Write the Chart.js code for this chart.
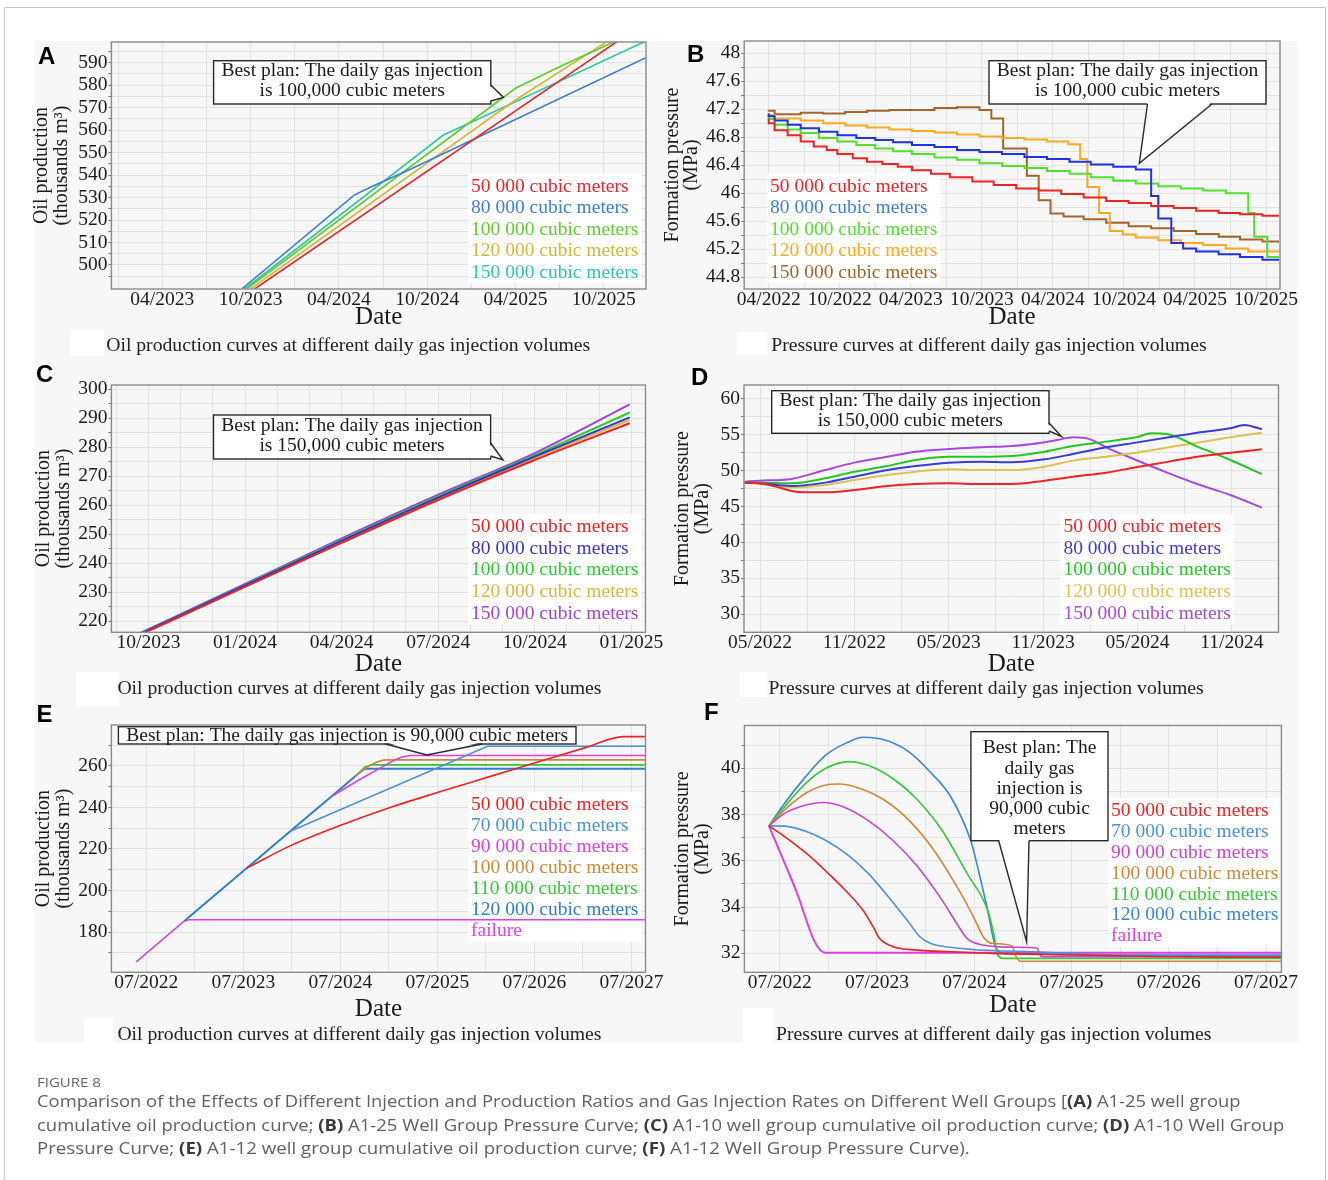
<!DOCTYPE html>
<html><head><meta charset="utf-8">
<script src="https://cdn.jsdelivr.net/npm/chart.js@4.4.1/dist/chart.umd.min.js"></script>
<style>
html,body{margin:0;padding:0;background:#fff;}
body{width:1328px;height:1180px;position:relative;overflow:hidden;}
#frame{position:absolute;left:4px;top:7px;width:1322px;height:1200px;border:1px solid #c6c6c6;box-sizing:border-box;}
#panelbg{position:absolute;left:35px;top:41px;width:1263px;height:1002px;background:#f7f7f7;}
.wbox{position:absolute;background:#fff;}
canvas.chart{position:absolute;left:0;top:0;}
.letter{position:absolute;font-family:'Liberation Sans',Arial,sans-serif;font-weight:bold;font-size:24px;line-height:24px;color:#000;}
.sub{position:absolute;font-family:'Liberation Serif','Times New Roman',serif;font-size:19.7px;line-height:20px;color:#222;white-space:nowrap;}
.cap{position:absolute;left:37px;font-family:'Open Sans',sans-serif;font-size:16.5px;line-height:20px;color:#606060;white-space:nowrap;transform-origin:0 0;}
.cap b{color:#3a3a3a;}
#fig{position:absolute;left:37px;top:1075.6px;font-family:'Open Sans',sans-serif;font-size:12.5px;line-height:14px;color:#666;white-space:nowrap;transform-origin:0 0;}
</style></head>
<body>
<div id="frame"></div>
<div id="panelbg"></div>
<div class="wbox" style="left:70px;top:330px;width:34px;height:26px"></div>
<div class="wbox" style="left:737px;top:332px;width:30px;height:23px"></div>
<div class="wbox" style="left:76px;top:672px;width:43px;height:34px"></div>
<div class="wbox" style="left:739px;top:672px;width:28px;height:25px"></div>
<div class="wbox" style="left:84px;top:1018px;width:30px;height:25px"></div>
<div class="wbox" style="left:743px;top:1008px;width:31px;height:35px"></div>
<div id="stage"></div>
<div class="letter" style="left:38px;top:43.7px">A</div>
<div class="letter" style="left:687px;top:42px">B</div>
<div class="letter" style="left:36px;top:362px">C</div>
<div class="letter" style="left:691px;top:365.3px">D</div>
<div class="letter" style="left:36.5px;top:702px">E</div>
<div class="letter" style="left:704px;top:700.3px">F</div>
<div class="sub" style="left:106.2px;top:333.7px">Oil production curves at different daily gas injection volumes</div>
<div class="sub" style="left:771.2px;top:333.7px">Pressure curves at different daily gas injection volumes</div>
<div class="sub" style="left:117.4px;top:676.9px">Oil production curves at different daily gas injection volumes</div>
<div class="sub" style="left:768.4px;top:676.9px">Pressure curves at different daily gas injection volumes</div>
<div class="sub" style="left:117.4px;top:1022.6px">Oil production curves at different daily gas injection volumes</div>
<div class="sub" style="left:776px;top:1022.6px">Pressure curves at different daily gas injection volumes</div>
<div id="fig">FIGURE 8</div>
<div class="cap" id="cap1" data-w="1203" style="top:1091.2px">Comparison of the Effects of Different Injection and Production Ratios and Gas Injection Rates on Different Well Groups [<b>(A)</b> A1-25 well group</div>
<div class="cap" id="cap2" data-w="1247" style="top:1114.5px">cumulative oil production curve; <b>(B)</b> A1-25 Well Group Pressure Curve; <b>(C)</b> A1-10 well group cumulative oil production curve; <b>(D)</b> A1-10 Well Group</div>
<div class="cap" id="cap3" data-w="933" style="top:1137.8px">Pressure Curve; <b>(E)</b> A1-12 well group cumulative oil production curve; <b>(F)</b> A1-12 Well Group Pressure Curve).</div>
<script>
// ===================== DATA =====================
// x values are month indices counted from 01/2022 (0 = 01/2022)
const LEG5A = ['50 000 cubic meters','80 000 cubic meters','100 000 cubic meters','120 000 cubic meters','150 000 cubic meters'];
const LEG7 = ['50 000 cubic meters','70 000 cubic meters','90 000 cubic meters','100 000 cubic meters','110 000 cubic meters','120 000 cubic meters','failure'];

// Panel A - cumulative oil production (thousand m3)
const A_50k  = [[21.27,489.3],[45.95,599.6]];
const A_80k  = [[20.4,489.3],[28.04,531.1],[29.2,534.8],[31.5,541.5],[47.86,592.2]];
const A_100k = [[20.73,489.3],[39.0,578.6],[42.0,588.2],[45.8,599.6]];
const A_120k = [[21.0,489.3],[39.0,573.4],[45.27,599.6]];
const A_150k = [[20.6,489.3],[34.1,557.8],[36.0,563.5],[47.86,599.6]];
const A_xMajor = [15,21,27,33,39,45], A_xMinor = [12,18,24,30,36,42];
const A_yMajor = [500,510,520,530,540,550,560,570,580,590], A_yMinor = [495,505,515,525,535,545,555,565,575,585,595];

// Panel B - formation pressure (MPa), stepped
const B_50k = [[3,47.07],[3.5,47.0],[4.6,46.90],[5.7,46.83],[6.8,46.74],[7.9,46.67],[8.8,46.62],[10.1,46.56],[11.3,46.50],[12.6,46.45],[13.9,46.42],[15.1,46.38],[16.7,46.33],[18.3,46.28],[20.2,46.23],[22.0,46.17],[23.9,46.12],[25.8,46.07],[27.7,46.04],[29.6,45.99],[31.5,45.94],[33.4,45.89],[35.3,45.86],[37.2,45.82],[39.1,45.79],[41.0,45.75],[42.8,45.72],[44.7,45.70],[46.1,45.68]];
const B_80k = [[3,47.14],[3.5,47.10],[4.6,47.04],[5.7,46.98],[7.25,46.93],[8.8,46.88],[10.4,46.83],[12.0,46.79],[13.5,46.76],[15.1,46.73],[17.0,46.69],[18.9,46.66],[20.8,46.62],[22.7,46.59],[24.6,46.56],[26.5,46.52],[28.4,46.49],[30.2,46.45],[32.1,46.41],[34.0,46.38],[35.3,46.34],[35.9,45.96],[37.0,45.64],[38.0,45.29],[39.1,45.21],[41.0,45.17],[42.8,45.13],[44.7,45.09],[46.1,45.05]];
const B_100k = [[3,47.12],[3.5,47.06],[4.6,46.98],[5.7,46.91],[7.25,46.86],[8.8,46.79],[10.4,46.74],[12.0,46.69],[13.5,46.64],[15.1,46.60],[17.0,46.56],[18.9,46.51],[20.8,46.48],[22.7,46.43],[24.6,46.39],[26.5,46.36],[28.4,46.32],[30.2,46.28],[32.1,46.23],[34.0,46.18],[35.9,46.14],[37.8,46.10],[39.7,46.07],[41.6,46.04],[43.5,46.00],[44.0,45.72],[45.1,45.38],[46.1,45.09]];
const B_120k = [[3,47.14],[3.5,47.12],[5.7,47.07],[7.6,47.04],[9.45,47.00],[11.3,46.97],[13.2,46.94],[15.1,46.91],[17.0,46.89],[18.9,46.87],[20.8,46.84],[22.7,46.81],[24.6,46.79],[26.5,46.77],[28.3,46.74],[29.3,46.70],[29.9,46.49],[30.9,46.09],[31.8,45.72],[32.9,45.46],[34.0,45.41],[35.9,45.37],[37.8,45.33],[39.7,45.29],[41.6,45.26],[43.5,45.21],[46.1,45.17]];
const B_150k = [[3,47.17],[3.5,47.18],[3.8,47.13],[5.7,47.13],[7.6,47.15],[9.45,47.14],[11.3,47.16],[13.2,47.18],[15.1,47.19],[17.0,47.19],[18.9,47.22],[20.8,47.23],[21.8,47.19],[22.8,47.07],[24.8,46.64],[25.8,46.25],[26.8,45.90],[27.9,45.71],[29.6,45.67],[31.5,45.63],[33.4,45.58],[35.3,45.53],[37.2,45.50],[39.1,45.46],[41.0,45.42],[42.8,45.38],[44.7,45.34],[46.1,45.31]];
const B_xMajor = [3,9,15,21,27,33,39,45], B_xMinor = [6,12,18,24,30,36,42];
const B_yMajor = [44.8,45.2,45.6,46,46.4,46.8,47.2,47.6,48], B_yMinor = [45,45.4,45.8,46.2,46.6,47,47.4,47.8];

// Panel C - cumulative oil production (thousand m3)
const C_50k  = [[20.5,214.0],[24,231.8],[27,247.0],[30,261.8],[33,275.6],[35.95,288.3]];
const C_80k  = [[20.5,214.3],[24,232.3],[27,247.7],[30,262.6],[33,276.8],[35.95,290.3]];
const C_100k = [[20.5,214.4],[24,232.5],[27,248.0],[30,263.0],[33,277.3],[35.95,292.0]];
const C_120k = [[20.5,214.2],[24,232.1],[27,247.4],[30,262.3],[33,276.3],[35.95,289.4]];
const C_150k = [[20.5,214.6],[24,232.8],[27,248.5],[30,263.6],[33,278.0],[35.95,294.8]];
const C_xMajor = [21,24,27,30,33,36], C_xMinor = [20,22,23,25,26,28,29,31,32,34,35];
const C_yMajor = [220,230,240,250,260,270,280,290,300], C_yMinor = [225,235,245,255,265,275,285,295];

// Panel D - formation pressure (MPa)
const D_50k  = [[3.03,48.33],[4,48.23],[5,47.77],[6,47.16],[6.84,46.98],[8.15,46.98],[10,47.30],[12.1,47.86],[13.9,48.14],[16,48.23],[18.1,48.14],[20,48.14],[22.1,48.60],[23.9,49.16],[26,49.72],[27.9,50.47],[30,51.26],[31.8,51.95],[33.9,52.51],[35.9,52.98]];
const D_80k  = [[3.03,48.33],[4,48.23],[6,47.86],[8.15,48.33],[10,49.16],[12.1,50.09],[13.9,50.65],[16,51.12],[18.1,51.26],[20,51.16],[22.1,51.58],[23.9,52.33],[26,53.26],[27.9,53.91],[30,54.65],[31.8,55.30],[33.9,55.91],[34.8,56.37],[35.9,55.77]];
const D_100k = [[3.03,48.33],[4,48.33],[6,48.23],[8.15,48.93],[10,49.86],[12.1,50.65],[13.9,51.49],[16,51.95],[18.1,51.95],[20,52.05],[22.1,52.65],[23.9,53.44],[26,54.05],[27.9,54.65],[28.9,55.21],[29.85,55.12],[31.8,53.35],[33.9,51.49],[35.9,49.53]];
const D_120k = [[3.03,48.33],[4,48.14],[6,47.67],[8.15,48.0],[10,48.70],[12.1,49.40],[13.9,49.86],[16,50.19],[18.1,50.09],[20,50.09],[22.1,50.56],[23.9,51.40],[26,51.95],[27.9,52.51],[30,53.26],[31.8,53.91],[33.9,54.65],[35.9,55.30]];
const D_150k = [[3.03,48.47],[4,48.6],[6,48.84],[8.15,50.09],[10,51.12],[12.1,51.95],[13.9,52.65],[16,53.02],[18.1,53.26],[20,53.44],[21.3,53.72],[22.9,54.28],[23.9,54.65],[25,54.37],[26,53.26],[27.9,51.49],[30,49.63],[31.8,48.14],[33.9,46.60],[35.9,44.84]];
const D_xMajor = [4,10,16,22,28,34], D_xMinor = [7,13,19,25,31];
const D_yMajor = [30,35,40,45,50,55,60], D_yMinor = [32.5,37.5,42.5,47.5,52.5,57.5];

// Panel E - cumulative oil production (thousand m3)
const E_50k  = [[18.4,210.7],[23.85,221.6],[30.3,231.8],[36.25,240.1],[42.2,247.4],[48.25,254.6],[54.2,261.6],[60.3,268.8],[65.0,274.1],[67.7,274.1]];
const E_70k  = [[23.8,228.5],[48.2,269.5],[67.7,269.5]];
const E_90k  = [[28.9,245.3],[33.8,256.5],[38.8,265.0],[67.7,265.0]];
const E_100k = [[31.8,254.9],[33.8,260.5],[35.75,262.9],[67.7,262.9]];
const E_110k = [[32.5,257.2],[33.0,259.4],[33.8,260.5],[67.7,260.5]];
const E_120k = [[10.7,185.3],[18.4,210.7],[23.8,228.5],[29.8,248.3],[32.8,258.2],[33.2,258.6],[67.7,258.6]];
const E_fail = [[4.75,165.6],[10.7,185.3],[11.3,185.9],[67.7,185.9]];
const E_xMajor = [6,18,30,42,54,66], E_xMinor = [12,24,36,48,60];
const E_yMajor = [180,200,220,240,260], E_yMinor = [170,190,210,230,250,270];

// Panel F - formation pressure (MPa)
const F_50k  = [[4.67,37.51],[6.6,37.05],[9.2,36.35],[11.7,35.55],[14.3,34.65],[16.3,33.85],[17.6,33.1],[18.3,32.65],[19.9,32.3],[23.0,32.14],[27.1,32.07],[32.2,32.0],[42.4,31.93],[52.6,31.86],[67.9,31.83]];
const F_70k  = [[4.67,37.51],[6.6,37.5],[9.2,37.28],[11.7,36.88],[14.3,36.28],[16.8,35.5],[19.4,34.45],[21.9,33.35],[23.2,32.75],[24.5,32.45],[28.1,32.22],[32.2,32.12],[37.3,32.07],[47.5,31.93],[67.9,31.93]];
const F_90k  = [[4.67,37.51],[6.6,38.05],[9.2,38.41],[11.2,38.52],[13.8,38.34],[16.8,37.77],[19.9,36.9],[23.0,35.75],[26.0,34.31],[28.1,33.15],[29.1,32.65],[31.1,32.36],[35.2,32.26],[37.8,32.22],[38.0,32.0],[38.5,31.85],[67.9,31.85]];
const F_100k = [[4.67,37.51],[6.6,38.2],[9.2,38.92],[11.7,39.28],[13.3,39.32],[15.8,39.14],[18.9,38.63],[21.9,37.77],[25.0,36.47],[28.1,34.74],[30.1,33.44],[31.1,32.72],[32.2,32.43],[34.7,32.32],[35.0,31.97],[35.7,31.66],[67.9,31.66]];
const F_110k = [[4.67,37.51],[6.6,38.34],[9.2,39.35],[11.7,40.0],[14.5,40.29],[16.8,40.14],[19.9,39.57],[23.0,38.63],[26.0,37.33],[29.1,35.46],[31.65,33.87],[32.4,32.86],[32.9,31.93],[33.7,31.78],[67.9,31.78]];
const F_120k = [[4.67,37.51],[6.6,38.49],[9.2,39.64],[11.7,40.58],[14.3,41.11],[16.3,41.34],[18.9,41.23],[21.9,40.72],[24.5,39.86],[27.1,38.77],[29.6,36.83],[30.6,35.46],[31.65,33.87],[32.7,32.22],[33.7,32.0],[67.9,31.9]];
const F_fail = [[4.67,37.51],[6.1,36.32],[8.15,34.59],[10.2,32.58],[11.0,32.14],[11.7,32.03],[67.9,32.03]];
const F_xMajor = [6,18,30,42,54,66], F_xMinor = [12,24,36,48,60];
const F_yMajor = [32,34,36,38,40], F_yMinor = [33,35,37,39,41];

// ===================== RENDERING =====================
const FONT = "'Liberation Serif','Times New Roman',serif";
const W = 1328, H = 1180, GRID = '#e2e2e2';
function monthLabel(v){ const m = Math.round(v); return String((m % 12) + 1).padStart(2,'0') + '/' + (2022 + Math.floor(m / 12)); }
const isIn = (arr, v) => arr.some(a => Math.abs(a - v) < 1e-6);

function drawCallout(ctx, c){
  const [x1,y1,x2,y2] = c.box;
  ctx.save();
  ctx.fillStyle = '#fff'; ctx.fillRect(x1,y1,x2-x1,y2-y1);
  ctx.strokeStyle = '#2a2a2a'; ctx.lineWidth = 1.4; ctx.strokeRect(x1,y1,x2-x1,y2-y1);
  const [b1,tip,b2] = c.tail;
  const off = c.dir === 'right' ? [-2,0] : [0,-2];
  ctx.beginPath();
  ctx.moveTo(b1[0]+off[0], b1[1]+off[1]); ctx.lineTo(tip[0],tip[1]); ctx.lineTo(b2[0]+off[0], b2[1]+off[1]); ctx.closePath();
  ctx.fillStyle = '#fff'; ctx.fill();
  ctx.beginPath(); ctx.moveTo(b1[0],b1[1]); ctx.lineTo(tip[0],tip[1]); ctx.lineTo(b2[0],b2[1]); ctx.stroke();
  ctx.fillStyle = '#1a1a1a'; ctx.font = '19.5px ' + FONT; ctx.textAlign = 'center'; ctx.textBaseline = 'alphabetic';
  c.lines.forEach((t,i) => ctx.fillText(t, c.cx, c.ys[i] + 6.45));
  ctx.restore();
}

function makeDecor(cfg){
  return {
    id: 'decor' + cfg.id,
    beforeDatasetsDraw(chart){
      const ctx = chart.ctx, L = cfg.legend, ds = chart.data.datasets;
      ctx.save(); ctx.font = '19.5px ' + FONT;
      let w = 0; ds.forEach(d => { w = Math.max(w, ctx.measureText(d.label).width); });
      ctx.fillStyle = '#fff';
      ctx.fillRect(L.x - 3, L.y0 - 12, w + 6, L.dy * (ds.length - 1) + 24);
      ctx.restore();
    },
    afterDatasetsDraw(chart){
      const ctx = chart.ctx, L = cfg.legend, a = chart.chartArea;
      ctx.save();
      ctx.font = '19.5px ' + FONT; ctx.textAlign = 'left'; ctx.textBaseline = 'alphabetic';
      chart.data.datasets.forEach((d,i) => { ctx.fillStyle = d.legendColor; ctx.fillText(d.label, L.x, L.y0 + i * L.dy + 6.45); });
      ctx.restore();
      drawCallout(ctx, cfg.callout);
      ctx.save(); ctx.strokeStyle = '#8a8a8a'; ctx.lineWidth = 1.4;
      ctx.strokeRect(a.left, a.top, a.right - a.left, a.bottom - a.top);
      ctx.restore();
    }
  };
}

function makePanel(cfg){
  const cv = document.createElement('canvas');
  cv.width = W; cv.height = H; cv.className = 'chart';
  document.getElementById('stage').appendChild(cv);
  const P = cfg.plot, yW = 80, xH = 60;
  const tickFont = {family: FONT, size: 19.5, lineHeight: 1.1};
  const xTicks = cfg.x.major.concat(cfg.x.minor).sort((a,b) => a - b);
  const yTicks = cfg.y.major.concat(cfg.y.minor).sort((a,b) => a - b);
  const lh = cfg.yTitleLH;
  new Chart(cv, {
    type: 'line',
    data: { datasets: cfg.series.map((s,i) => ({
      label: cfg.labels[i],
      data: s.data.map(([x,y]) => ({x, y})),
      borderColor: s.color, backgroundColor: s.color,
      legendColor: s.legend || s.color,
      borderWidth: s.width || cfg.lineWidth,
      pointRadius: 0, fill: false,
      stepped: cfg.stepped || false,
      tension: 0,
      cubicInterpolationMode: (s.smooth !== undefined ? s.smooth : cfg.smooth) ? 'monotone' : 'default'
    }))},
    options: {
      responsive: false, animation: false, events: [],
      layout: { padding: { left: P.l - yW, top: P.t, right: W - P.r, bottom: H - P.b - xH } },
      plugins: { legend: {display: false}, tooltip: {enabled: false} },
      scales: {
        x: {
          type: 'linear', position: 'bottom', min: cfg.x.min, max: cfg.x.max,
          afterFit: s => { s.height = xH; },
          afterBuildTicks: s => { s.ticks = xTicks.map(v => ({value: v})); },
          ticks: { autoSkip: false, maxRotation: 0, minRotation: 0, padding: 0, color: '#1a1a1a', font: tickFont,
                   callback: v => isIn(cfg.x.major, v) ? monthLabel(v) : '' },
          grid: { color: GRID, lineWidth: 1, drawTicks: false },
          border: { display: false },
          title: { display: true, text: 'Date', color: '#1a1a1a', font: {family: FONT, size: 25, lineHeight: 1.2},
                   padding: {top: 0, bottom: P.b + xH - cfg.dateY - 15} }
        },
        y: {
          type: 'linear', position: 'left', min: cfg.y.min, max: cfg.y.max,
          afterFit: s => { s.width = yW; },
          afterBuildTicks: s => { s.ticks = yTicks.map(v => ({value: v})); },
          ticks: { autoSkip: false, padding: 1, color: '#1a1a1a', font: tickFont,
                   callback: v => isIn(cfg.y.major, v) ? String(+v.toFixed(1)) : '' },
          grid: { color: GRID, lineWidth: 1, drawTicks: true, tickLength: 3, tickColor: '#777' },
          border: { display: false },
          title: { display: true, text: cfg.yTitle, color: '#1a1a1a', font: {family: FONT, size: 20, lineHeight: lh / 20},
                   padding: {top: cfg.yTitleX - (P.l - yW) - lh / 2, bottom: 0} }
        }
      }
    },
    plugins: [makeDecor(cfg)]
  });
}

const OIL = ['Oil production', '(thousands m\u00B3)'];
const PRES = ['Formation pressure', '(MPa)'];

makePanel({
  id: 'A', plot: {l: 111.4, t: 42, r: 646, b: 289},
  x: {min: 11.54, max: 47.87, major: A_xMajor, minor: A_xMinor},
  y: {min: 489.3, max: 599.2, major: A_yMajor, minor: A_yMinor},
  yTitle: OIL, yTitleX: 42, yTitleLH: 20, dateY: 317.8, lineWidth: 1.6,
  labels: LEG5A,
  series: [
    {data: A_50k, color: '#e8262b'}, {data: A_80k, color: '#3b7dd8'}, {data: A_100k, color: '#5fcc2f'},
    {data: A_120k, color: '#d6b63a'}, {data: A_150k, color: '#2fc99f'}],
  legend: {x: 471, y0: 185.5, dy: 21.45},
  callout: {box: [213.6,60.7,490.8,104], lines: ['Best plan: The daily gas injection','is 100,000 cubic meters'], cx: 352.2, ys: [69.7,89.7],
            tail: [[490.8,85],[503.5,97.5],[490.8,101]], dir: 'right'}
});

makePanel({
  id: 'B', plot: {l: 744.2, t: 41, r: 1280, b: 289},
  x: {min: 0.93, max: 46.18, major: B_xMajor, minor: B_xMinor},
  y: {min: 44.633, max: 48.176, major: B_yMajor, minor: B_yMinor},
  yTitle: PRES, yTitleX: 672.5, yTitleLH: 19, dateY: 317.8, lineWidth: 2, stepped: 'after',
  labels: LEG5A,
  series: [
    {data: B_50k, color: '#ee2424'}, {data: B_80k, color: '#1f33e6', legend: '#3c7fd8'}, {data: B_100k, color: '#52e02c'},
    {data: B_120k, color: '#ffa91f'}, {data: B_150k, color: '#a5652a'}],
  legend: {x: 770, y0: 185.5, dy: 21.45},
  callout: {box: [989,60.7,1266,104], lines: ['Best plan: The daily gas injection','is 100,000 cubic meters'], cx: 1127.5, ys: [69.7,89.7],
            tail: [[1147.5,104],[1139.3,163.3],[1212,104]], dir: 'bottom'}
});

makePanel({
  id: 'C', plot: {l: 111.4, t: 385, r: 645.5, b: 632.3},
  x: {min: 19.85, max: 36.44, major: C_xMajor, minor: C_xMinor},
  y: {min: 216.1, max: 301.5, major: C_yMajor, minor: C_yMinor},
  yTitle: OIL, yTitleX: 44, yTitleLH: 20, dateY: 664.2, lineWidth: 2, smooth: true,
  labels: LEG5A,
  series: [
    {data: C_50k, color: '#ee2222'}, {data: C_80k, color: '#3535cc'}, {data: C_100k, color: '#2ecc2e'},
    {data: C_120k, color: '#d6b840'}, {data: C_150k, color: '#a040e0'}],
  legend: {x: 471, y0: 525.7, dy: 21.65},
  callout: {box: [213.5,415,490.6,459], lines: ['Best plan: The daily gas injection','is 150,000 cubic meters'], cx: 352, ys: [425,444.5],
            tail: [[490.6,443],[503,460],[490.6,456]], dir: 'right'}
});

makePanel({
  id: 'D', plot: {l: 744, t: 385, r: 1278.5, b: 632.3},
  x: {min: 2.98, max: 36.96, major: D_xMajor, minor: D_xMinor},
  y: {min: 27.45, max: 61.95, major: D_yMajor, minor: D_yMinor},
  yTitle: PRES, yTitleX: 682.8, yTitleLH: 19.6, dateY: 664.2, lineWidth: 2, smooth: true,
  labels: LEG5A,
  series: [
    {data: D_50k, color: '#ee2424'}, {data: D_80k, color: '#3a3ad6'}, {data: D_100k, color: '#22c822'},
    {data: D_120k, color: '#dcc254'}, {data: D_150k, color: '#a848e0'}],
  legend: {x: 1063.4, y0: 525.7, dy: 21.65},
  callout: {box: [771.7,390.7,1049,433.3], lines: ['Best plan: The daily gas injection','is 150,000 cubic meters'], cx: 910.3, ys: [400,420],
            tail: [[1049,423],[1061.5,436.5],[1049,431]], dir: 'right'}
});

makePanel({
  id: 'E', plot: {l: 111.4, t: 725, r: 645.5, b: 972.3},
  x: {min: 1.68, max: 67.74, major: E_xMajor, minor: E_xMinor},
  y: {min: 160.6, max: 279.7, major: E_yMajor, minor: E_yMinor},
  yTitle: OIL, yTitleX: 44, yTitleLH: 20, dateY: 1009.5, lineWidth: 1.6,
  labels: LEG7,
  series: [
    {data: E_50k, color: '#ee2222', smooth: true}, {data: E_70k, color: '#4a92dc'}, {data: E_90k, color: '#dd3fdd', smooth: true},
    {data: E_100k, color: '#d08838', smooth: true}, {data: E_110k, color: '#35c935'}, {data: E_120k, color: '#2f7dd0', width: 2},
    {data: E_fail, color: '#e040e0'}],
  legend: {x: 471, y0: 804, dy: 20.9},
  callout: {box: [118.4,726.7,576,744], lines: ['Best plan: The daily gas injection is 90,000 cubic meters'], cx: 347.2, ys: [735],
            tail: [[385.7,744],[426.8,755],[482,744]], dir: 'bottom'}
});

makePanel({
  id: 'F', plot: {l: 744.4, t: 725.5, r: 1281.4, b: 972.3},
  x: {min: 1.64, max: 67.9, major: F_xMajor, minor: F_xMinor},
  y: {min: 31.18, max: 41.85, major: F_yMajor, minor: F_yMinor},
  yTitle: PRES, yTitleX: 682.8, yTitleLH: 19.6, dateY: 1005.8, lineWidth: 1.6, smooth: true,
  labels: LEG7,
  series: [
    {data: F_50k, color: '#ee2222'}, {data: F_70k, color: '#4a92dc'}, {data: F_90k, color: '#cc44cc'},
    {data: F_100k, color: '#d08838'}, {data: F_110k, color: '#35c935'}, {data: F_120k, color: '#3a86d8'},
    {data: F_fail, color: '#e040e0', width: 2}],
  legend: {x: 1111, y0: 810, dy: 20.8},
  callout: {box: [970.9,731.7,1108,840.7], lines: ['Best plan: The','daily gas','injection is','90,000 cubic','meters'], cx: 1039.5,
            ys: [746.7,767.7,787.3,807.3,827.3], tail: [[998.7,840.7],[1026.6,941.7],[1029,840.7]], dir: 'bottom'}
});

// fit caption lines to their measured widths in the reference
document.querySelectorAll('.cap').forEach(el => {
  const target = +el.dataset.w; const w = el.scrollWidth;
  if (w > 0) el.style.transform = 'scaleX(' + (target / w) + ')';
});
(function(){ const el = document.getElementById('fig'); const w = el.scrollWidth; if (w > 0) el.style.transform = 'scaleX(' + (63.5 / w) + ')'; })();
</script>
</body></html>
